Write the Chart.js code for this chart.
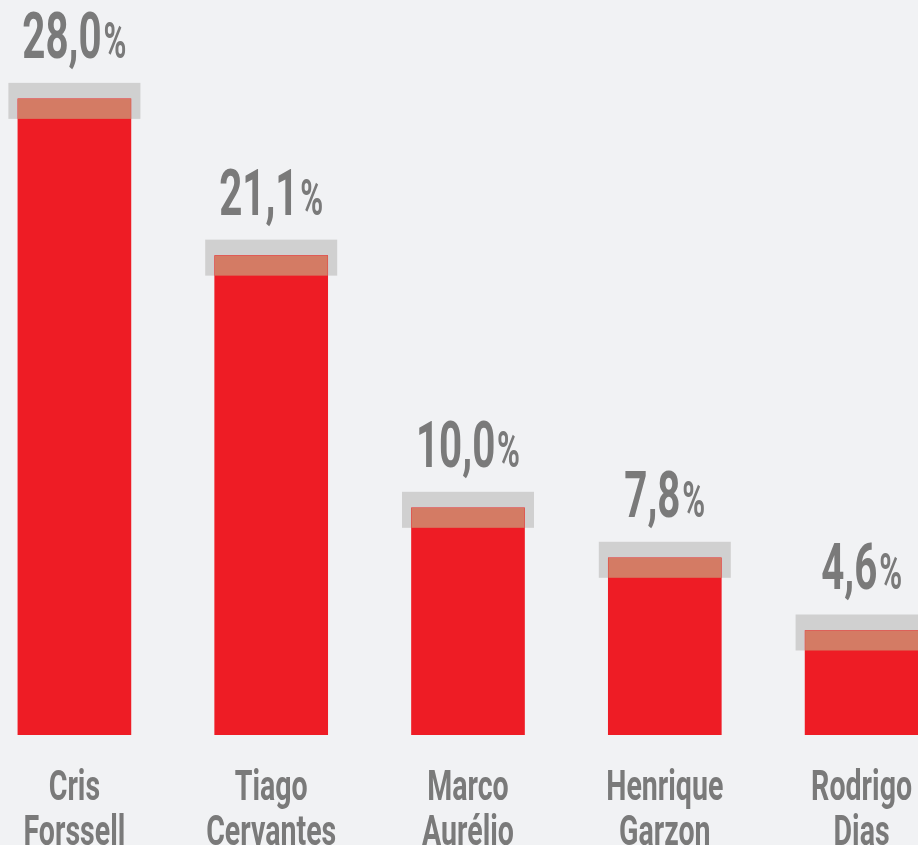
<!DOCTYPE html>
<html>
<head>
<meta charset="utf-8">
<script src="https://cdn.jsdelivr.net/npm/chart.js@4/dist/chart.umd.min.js"></script>
<style>
    html, body { margin: 0; padding: 0; background: #f1f2f4; overflow: hidden; width: 918px; height: 845px; }
    #wrap { position: absolute; left: -24px; top: 0; width: 984px; height: 845px; }
</style>
</head>
<body>
<div id="wrap"><canvas id="myChart"></canvas></div>
<script>
// names (two lines each) and vote share in %
var candidates = [["Cris", "Forssell"], ["Tiago", "Cervantes"], ["Marco", "Aurélio"], ["Henrique", "Garzon"], ["Rodrigo", "Dias"]];
var shares = [28.0, 21.1, 10.0, 7.8, 4.6];
var yMax = 32;

var textColor = '#7a7a7a';
var squeeze = 0.62;   // condensed look for the labels

// gray band behind the top of each bar, salmon overlap, then the labels
var topBands = {
    id: 'topBands',
    beforeDatasetsDraw: function (chart) {
        var ctx = chart.ctx;
        ctx.save();
        ctx.fillStyle = '#d0d0d0';
        chart.getDatasetMeta(0).data.forEach(function (bar) {
            ctx.fillRect(bar.x - 66, bar.y - 16, 132, 36);
        });
        ctx.restore();
    },
    afterDatasetsDraw: function (chart) {
        var ctx = chart.ctx;
        var bottom = chart.chartArea.bottom;
        var xScale = chart.scales.x;
        ctx.save();
        chart.getDatasetMeta(0).data.forEach(function (bar, i) {
            // overlap of band and bar
            ctx.fillStyle = '#d47b64';
            ctx.fillRect(bar.x - bar.width / 2, bar.y, bar.width, 20);

            // value label: big number + smaller %
            var num = shares[i].toFixed(1).replace('.', ',');
            ctx.fillStyle = textColor;
            ctx.textBaseline = 'alphabetic';
            ctx.textAlign = 'left';
            ctx.save();
            ctx.translate(bar.x, bar.y - 41);
            ctx.scale(squeeze, 1);
            ctx.font = 'bold 65px Roboto';
            var w1 = ctx.measureText(num).width;
            ctx.font = 'bold 50px Roboto';
            var w2 = ctx.measureText('%').width;
            var start = -(w1 + w2 + 3) / 2;
            ctx.font = 'bold 65px Roboto';
            ctx.fillText(num, start, 0);
            ctx.font = 'bold 50px Roboto';
            ctx.fillText('%', start + w1 + 3, 0);
            ctx.restore();
        });

        // category names under the bars
        candidates.forEach(function (lines, i) {
            var x = xScale.getPixelForValue(i);
            ctx.save();
            ctx.translate(x, bottom);
            ctx.scale(0.68, 1);
            ctx.font = 'bold 42px Roboto';
            ctx.fillStyle = textColor;
            ctx.textAlign = 'center';
            ctx.textBaseline = 'alphabetic';
            for (var j = 0; j < lines.length; j++) {
                ctx.fillText(lines[j], 0, 65 + j * 45);
            }
            ctx.restore();
        });
        ctx.restore();
    }
};

var ctx = document.getElementById('myChart').getContext('2d');
var chart = new Chart(ctx, {
    type: 'bar',
    data: {
        labels: candidates,
        datasets: [{
            data: shares,
            backgroundColor: '#ee1c25',
            borderWidth: 0,
            barThickness: 113
        }]
    },
    options: {
        responsive: true,
        maintainAspectRatio: false,
        animation: false,
        layout: { padding: { top: 8, bottom: 110, left: 0, right: 0 } },
        plugins: {
            legend: { display: false },
            tooltip: { enabled: false }
        },
        scales: {
            x: { display: false },
            y: { display: false, min: 0, max: yMax }
        }
    },
    plugins: [topBands]
});
</script>
</body>
</html>
